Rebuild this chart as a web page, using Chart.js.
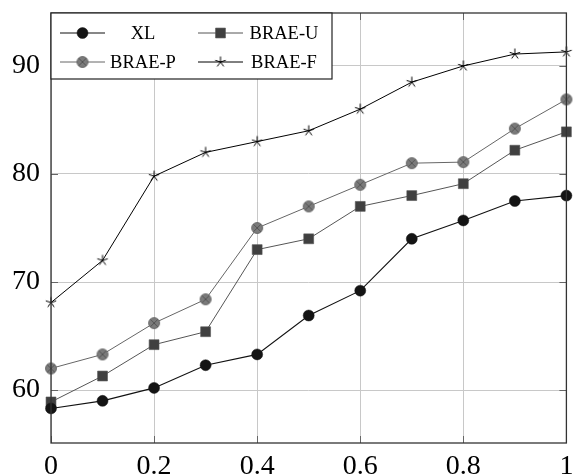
<!DOCTYPE html>
<html>
<head>
<meta charset="utf-8">
<script src="https://cdn.jsdelivr.net/npm/chart.js@4/dist/chart.umd.min.js"></script>
<style>
  html, body { margin: 0; padding: 0; background: #fff; }
  canvas { display: block; }
</style>
</head>
<body>
<canvas id="myChart" width="574" height="474"></canvas>
<script>
// data
var xs = [0, 0.1, 0.2, 0.3, 0.4, 0.5, 0.6, 0.7, 0.8, 0.9, 1];
var xl    = [58.3, 59.0, 60.2, 62.3, 63.3, 66.9, 69.2, 74.0, 75.7, 77.5, 78.0];
var braeU = [58.9, 61.3, 64.2, 65.4, 73.0, 74.0, 77.0, 78.0, 79.1, 82.2, 83.9];
var braeP = [62.0, 63.3, 66.2, 68.4, 75.0, 77.0, 79.0, 81.0, 81.1, 84.2, 86.9];
var braeF = [68.1, 72.0, 79.8, 82.0, 83.0, 84.0, 86.0, 88.5, 90.0, 91.1, 91.3];
var xTicks = [0, 0.2, 0.4, 0.6, 0.8, 1];
var yTicks = [60, 70, 80, 90];

var serif = 'Liberation Serif, "Times New Roman", Times, serif';

function pts(ys) {
  return ys.map(function(y, i){ return {x: xs[i], y: y}; });
}

/*
# custom marks
*/
function crossCircle() {
  var c = document.createElement('canvas');
  c.width = 14; c.height = 14;
  var g = c.getContext('2d');
  g.beginPath();
  g.arc(7, 7, 5.5, 0, Math.PI * 2);
  g.fillStyle = '#7b7b7b';
  g.fill();
  g.lineWidth = 0.8;
  g.strokeStyle = '#5a5a5a';
  g.stroke();
  var d = 5.5 * 0.7;
  g.beginPath();
  g.moveTo(7 - d, 7 - d); g.lineTo(7 + d, 7 + d);
  g.moveTo(7 + d, 7 - d); g.lineTo(7 - d, 7 + d);
  g.strokeStyle = '#4a4a4a';
  g.stroke();
  return c;
}
function starMark() {
  var c = document.createElement('canvas');
  c.width = 14; c.height = 14;
  var g = c.getContext('2d');
  g.beginPath();
  for (var k = 0; k < 5; k++) {
    var a = -Math.PI / 2 + k * 2 * Math.PI / 5;
    g.moveTo(7, 7);
    g.lineTo(7 + 5.5 * Math.cos(a), 7 + 5.5 * Math.sin(a));
  }
  g.lineWidth = 1;
  g.strokeStyle = '#000';
  g.stroke();
  return c;
}

/*
# frame, inner ticks and legend
*/
var framePlugin = {
  id: 'frame',
  afterDatasetsDraw: function(chart) {
    var ctx = chart.ctx, a = chart.chartArea;
    var sx = chart.scales.x, sy = chart.scales.y;
    ctx.save();
    ctx.strokeStyle = '#666';
    ctx.lineWidth = 1;
    ctx.beginPath();
    xTicks.forEach(function(v){
      var px = Math.round(sx.getPixelForValue(v)) + 0.5;
      ctx.moveTo(px, a.bottom); ctx.lineTo(px, a.bottom - 7);
      ctx.moveTo(px, a.top); ctx.lineTo(px, a.top + 7);
    });
    yTicks.forEach(function(v){
      var py = Math.round(sy.getPixelForValue(v)) + 0.5;
      ctx.moveTo(a.left, py); ctx.lineTo(a.left + 7, py);
      ctx.moveTo(a.right, py); ctx.lineTo(a.right - 7, py);
    });
    ctx.stroke();
    ctx.strokeStyle = '#333';
    ctx.lineWidth = 1.3;
    ctx.strokeRect(a.left, a.top, a.right - a.left, a.bottom - a.top);
    ctx.restore();
  },
  afterDraw: function(chart) {
    var ctx = chart.ctx, a = chart.chartArea;
    var bx = a.left, by = a.top, bw = 281, bh = 66;
    ctx.save();
    ctx.fillStyle = '#fff';
    ctx.fillRect(bx, by, bw, bh);
    ctx.strokeStyle = '#222';
    ctx.lineWidth = 1.2;
    ctx.strokeRect(bx, by, bw, bh);
    var cols = [{l0: 60, l1: 105, tx: 143}, {l0: 198, l1: 243, tx: 284}];
    var rows = [33, 62];
    ctx.font = '18.5px ' + serif;
    ctx.textAlign = 'center';
    ctx.textBaseline = 'middle';
    chart.data.datasets.forEach(function(ds, k){
      var col = cols[k % 2], y = rows[Math.floor(k / 2)];
      ctx.strokeStyle = ds.borderColor;
      ctx.lineWidth = ds.borderWidth;
      ctx.beginPath();
      ctx.moveTo(col.l0, y); ctx.lineTo(col.l1, y);
      ctx.stroke();
      ctx.fillStyle = ds.pointBackgroundColor;
      ctx.strokeStyle = ds.pointBorderColor;
      ctx.lineWidth = ds.pointBorderWidth;
      Chart.helpers.drawPoint(ctx, {
        pointStyle: ds.pointStyle, radius: ds.pointRadius, rotation: 0, borderWidth: ds.pointBorderWidth
      }, (col.l0 + col.l1) / 2, y);
      ctx.fillStyle = '#000';
      ctx.fillText(ds.label, col.tx, y + 1);
    });
    ctx.restore();
  }
};

var ctx = document.getElementById('myChart').getContext('2d');
var chart = new Chart(ctx, {
  type: 'line',
  data: {
    datasets: [{
      label: 'XL',
      data: pts(xl),
      borderColor: '#111', borderWidth: 1.1,
      pointStyle: 'circle', pointRadius: 5.5,
      pointBackgroundColor: '#141414', pointBorderColor: '#141414', pointBorderWidth: 0.5
    }, {
      label: 'BRAE-U',
      data: pts(braeU),
      borderColor: '#555', borderWidth: 1,
      pointStyle: 'rect', pointRadius: 7,
      pointBackgroundColor: '#404040', pointBorderColor: '#555', pointBorderWidth: 0.6
    }, {
      label: 'BRAE-P',
      data: pts(braeP),
      borderColor: '#666', borderWidth: 1,
      pointStyle: crossCircle(), pointRadius: 6,
      pointBackgroundColor: '#7b7b7b', pointBorderColor: '#5a5a5a', pointBorderWidth: 0.8
    }, {
      label: 'BRAE-F',
      data: pts(braeF),
      borderColor: '#000', borderWidth: 1,
      pointStyle: starMark(), pointRadius: 6,
      pointBackgroundColor: '#000', pointBorderColor: '#000', pointBorderWidth: 1
    }]
  },
  options: {
    responsive: false,
    animation: false,
    events: [],
    layout: { padding: { top: 13, right: 5, left: 0, bottom: 0 } },
    datasets: { line: { tension: 0, clip: false } },
    plugins: { legend: { display: false }, tooltip: { enabled: false } },
    scales: {
      x: {
        type: 'linear', min: 0, max: 1,
        afterBuildTicks: function(s){ s.ticks = xTicks.map(function(v){ return {value: v}; }); },
        afterFit: function(s){ s.height = 31; s.paddingLeft = 0; s.paddingRight = 0; },
        ticks: { color: '#000', font: { family: serif, size: 28 }, padding: 7, maxRotation: 0,
                 callback: function(v){ return String(v); } },
        grid: { color: '#c8c8c8', lineWidth: 1, drawTicks: false },
        border: { display: false }
      },
      y: {
        min: 55.1, max: 94.9,
        afterBuildTicks: function(s){ s.ticks = yTicks.map(function(v){ return {value: v}; }); },
        afterFit: function(s){ s.width = 51; s.paddingTop = 0; s.paddingBottom = 0; },
        ticks: { color: '#000', font: { family: serif, size: 28 }, padding: 11 },
        grid: { color: '#c8c8c8', lineWidth: 1, drawTicks: false },
        border: { display: false }
      }
    }
  },
  plugins: [framePlugin]
});
</script>
</body>
</html>
